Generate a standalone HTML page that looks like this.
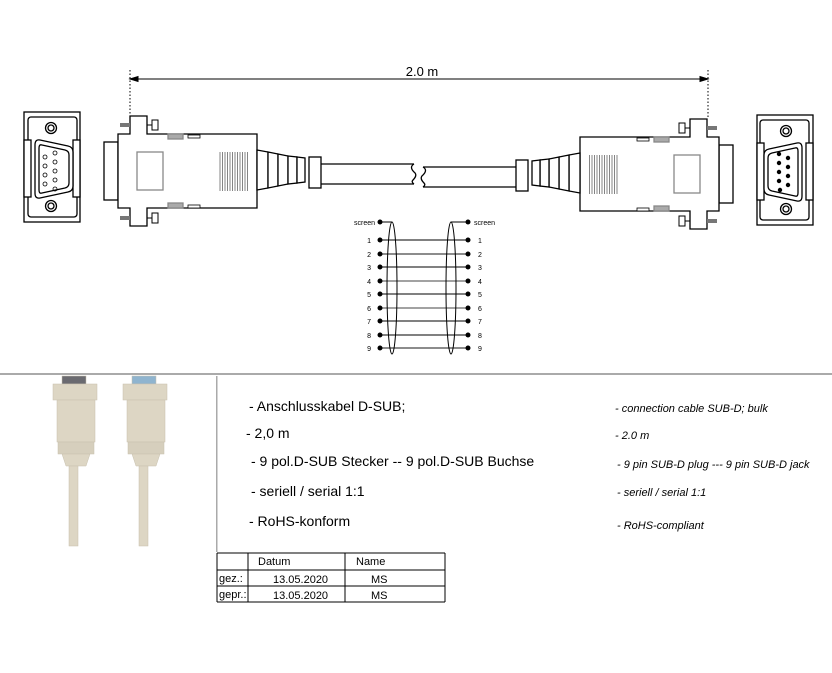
<!DOCTYPE html>
<html><head><meta charset="utf-8"><style>
body{margin:0;background:#fff;}
svg{display:block;font-family:"Liberation Sans",sans-serif;}
</style></head><body>
<svg width="832" height="673" viewBox="0 0 832 673" xmlns="http://www.w3.org/2000/svg">
<defs>
<g id="conn" fill="#fff" stroke="#000" stroke-width="1.3">
  <rect x="24" y="112" width="56" height="110"/>
  <rect x="28" y="117" width="49" height="100" rx="3"/>
  <rect x="24" y="140" width="7" height="57"/>
  <rect x="73" y="140" width="7" height="57"/>
  <path d="M40 140 L68 146 Q73 147 73 152 L73 186 Q73 191 68 192 L40 198 Q35 199 35 193 L35 145 Q35 139 40 140Z"/>
  <path d="M42 145 L65 150 Q69 151 69 155 L69 183 Q69 187 65 188 L42 193 Q39 194 39 190 L39 148 Q39 144 42 145Z"/>
  <circle cx="51" cy="128" r="5.5"/><circle cx="51" cy="128" r="3"/>
  <circle cx="51" cy="206" r="5.5"/><circle cx="51" cy="206" r="3"/>
  <rect x="104" y="142" width="14" height="58"/>
  <path d="M118 134 H130 V116 H147 V134 H257 V208 H147 V226 H130 V208 H118Z"/>
  <rect x="120" y="123" width="10" height="4" fill="#777" stroke="none"/>
  <rect x="120" y="216" width="10" height="4" fill="#777" stroke="none"/>
  <path d="M147 125 H152 M152 120 H158 V130 H152Z" stroke-width="1"/>
  <path d="M147 218 H152 M152 213 H158 V223 H152Z" stroke-width="1"/>
  <rect x="168" y="134" width="15" height="5" fill="#aaa" stroke="#888"/>
  <rect x="188" y="135" width="12" height="3" stroke-width="0.8"/>
  <rect x="168" y="203" width="15" height="5" fill="#aaa" stroke="#888"/>
  <rect x="188" y="205" width="12" height="3" stroke-width="0.8"/>
  <rect x="137" y="152" width="26" height="38" stroke="#888"/>
  <g stroke="#666" stroke-width="0.8">
   <path d="M220 152V191M222.5 152V191M225 152V191M227.5 152V191M230 152V191M232.5 152V191M235 152V191M237.5 152V191M240 152V191M242.5 152V191M245 152V191M247.5 152V191"/>
  </g>
  <path d="M257 150 L268 152 V188 L257 190Z"/>
  <path d="M268 152 L278 154 V186 L268 188Z"/>
  <path d="M278 154 L288 156 V184 L278 186Z"/>
  <path d="M288 156 L297 157 V183 L288 184Z"/>
  <path d="M297 157 L305 158 V182 L297 183Z"/>
  <rect x="309" y="157" width="12" height="31"/>
  <path d="M321 164 H414 M321 184 H414"/>
  <path d="M414 164 q-5 3 0 8 q4 3 -1 8 q-2 2 1 4" fill="none"/>
</g>
</defs>
<g stroke="#000" stroke-width="1">
 <line x1="133" y1="79" x2="705" y2="79"/>
 <path d="M130 79 l8 -2.5 v5z M708 79 l-8 -2.5 v5z" fill="#000"/>
 <line x1="130" y1="70" x2="130" y2="116" stroke-dasharray="1.5 2"/>
 <line x1="708" y1="70" x2="708" y2="118" stroke-dasharray="1.5 2"/>
</g>
<text x="422" y="76" font-size="13" text-anchor="middle">2.0 m</text>
<use href="#conn"/>
<use href="#conn" transform="translate(837,3) scale(-1,1)"/>
<g fill="#000">
 <circle cx="779" cy="154" r="2.2"/><circle cx="779" cy="163" r="2.2"/><circle cx="779" cy="172" r="2.2"/><circle cx="779" cy="181" r="2.2"/><circle cx="780" cy="190" r="2.2"/>
 <circle cx="788" cy="158" r="2.2"/><circle cx="788" cy="167" r="2.2"/><circle cx="788" cy="176" r="2.2"/><circle cx="788" cy="185" r="2.2"/>
</g>
<g fill="none" stroke="#000" stroke-width="0.8">
 <circle cx="45" cy="157" r="2"/><circle cx="45" cy="166" r="2"/><circle cx="45" cy="175" r="2"/><circle cx="45" cy="184" r="2"/>
 <circle cx="55" cy="153" r="2"/><circle cx="55" cy="162" r="2"/><circle cx="55" cy="171" r="2"/><circle cx="55" cy="180" r="2"/><circle cx="55" cy="189" r="2"/>
</g>
<g font-size="7" fill="#000">
 <text x="375" y="225" text-anchor="end">screen</text>
 <text x="474" y="225">screen</text>
 <g text-anchor="end">
 <text x="371" y="243">1</text><text x="371" y="257">2</text><text x="371" y="270">3</text><text x="371" y="284">4</text><text x="371" y="297">5</text><text x="371" y="311">6</text><text x="371" y="324">7</text><text x="371" y="338">8</text><text x="371" y="351">9</text>
 </g>
 <text x="478" y="243">1</text><text x="478" y="257">2</text><text x="478" y="270">3</text><text x="478" y="284">4</text><text x="478" y="297">5</text><text x="478" y="311">6</text><text x="478" y="324">7</text><text x="478" y="338">8</text><text x="478" y="351">9</text>
</g>
<g stroke="#000" stroke-width="1">
 <path d="M380 240H468M380 267H468M380 294H468M380 321H468M380 335H468"/>
 <path d="M380 254H468M380 348H468" stroke="#666" stroke-width="1.5"/>
 <path d="M380 281H468M380 308H468" stroke="#444"/>
 <path d="M380 222H392M468 222H451" />
 <ellipse cx="392" cy="288" rx="5" ry="66" fill="none"/>
 <ellipse cx="451" cy="288" rx="5" ry="66" fill="none"/>
</g>
<g fill="#000">
 <circle cx="380" cy="222" r="2.5"/><circle cx="468" cy="222" r="2.5"/>
 <circle cx="380" cy="240" r="2.5"/><circle cx="380" cy="254" r="2.5"/><circle cx="380" cy="267" r="2.5"/><circle cx="380" cy="281" r="2.5"/><circle cx="380" cy="294" r="2.5"/><circle cx="380" cy="308" r="2.5"/><circle cx="380" cy="321" r="2.5"/><circle cx="380" cy="335" r="2.5"/><circle cx="380" cy="348" r="2.5"/>
 <circle cx="468" cy="240" r="2.5"/><circle cx="468" cy="254" r="2.5"/><circle cx="468" cy="267" r="2.5"/><circle cx="468" cy="281" r="2.5"/><circle cx="468" cy="294" r="2.5"/><circle cx="468" cy="308" r="2.5"/><circle cx="468" cy="321" r="2.5"/><circle cx="468" cy="335" r="2.5"/><circle cx="468" cy="348" r="2.5"/>
</g>
<rect x="0" y="373" width="832" height="2" fill="#aaa"/>
<rect x="216" y="376" width="1.5" height="176" fill="#aaa"/>
<g fill="#ddd6c4" stroke="#c8c0ae" stroke-width="0.5">
 <rect x="62" y="376" width="24" height="8" fill="#6a6a70"/>
 <rect x="53" y="384" width="44" height="16"/>
 <rect x="57" y="400" width="38" height="42"/>
 <rect x="58" y="442" width="36" height="12" fill="#d6cfbd"/>
 <path d="M62 454 H90 L86 466 H66Z"/>
 <rect x="69" y="466" width="9" height="80"/>
 <rect x="132" y="376" width="24" height="8" fill="#8fb4cf"/>
 <rect x="123" y="384" width="44" height="16"/>
 <rect x="127" y="400" width="38" height="42"/>
 <rect x="128" y="442" width="36" height="12" fill="#d6cfbd"/>
 <path d="M132 454 H160 L156 466 H136Z"/>
 <rect x="139" y="466" width="9" height="80"/>
</g>
<g font-size="14" fill="#000">
 <text x="249" y="411">- Anschlusskabel D-SUB;</text>
 <text x="246" y="438">- 2,0 m</text>
 <text x="251" y="466">- 9 pol.D-SUB Stecker -- 9 pol.D-SUB Buchse</text>
 <text x="251" y="496">- seriell / serial 1:1</text>
 <text x="249" y="526">- RoHS-konform</text>
</g>
<g font-size="11" font-style="italic" fill="#000">
 <text x="615" y="412">- connection cable SUB-D; bulk</text>
 <text x="615" y="439">- 2.0 m</text>
 <text x="617" y="468">- 9 pin SUB-D plug --- 9 pin SUB-D jack</text>
 <text x="617" y="496">- seriell / serial 1:1</text>
 <text x="617" y="529">- RoHS-compliant</text>
</g>
<g stroke="#000" stroke-width="1" fill="none">
 <path d="M217 553H445M217 570H445M217 586H445M217 602H445"/>
 <path d="M217 553V602M248 553V602M345 553V602M445 553V602"/>
</g>
<g font-size="11" fill="#000">
 <text x="258" y="565">Datum</text><text x="356" y="565">Name</text>
 <text x="219" y="582">gez.:</text><text x="273" y="583">13.05.2020</text><text x="371" y="583">MS</text>
 <text x="219" y="598">gepr.:</text><text x="273" y="599">13.05.2020</text><text x="371" y="599">MS</text>
</g>
</svg>
</body></html>
